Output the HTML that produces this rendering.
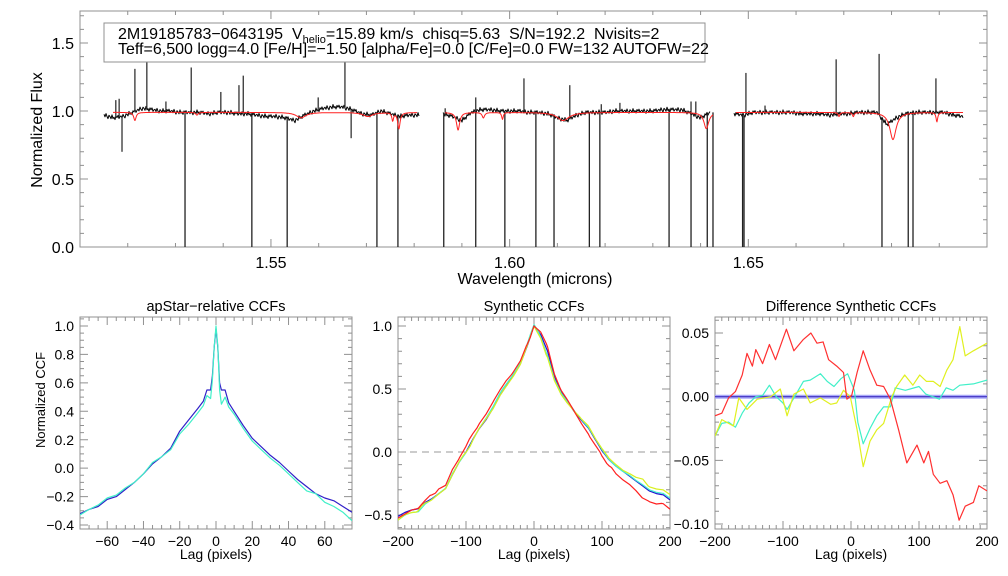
<!DOCTYPE html>
<html><head><meta charset="utf-8"><title>APOGEE spectrum and CCFs</title>
<style>
html,body{margin:0;padding:0;background:#fff;}
svg{display:block;font-family:"Liberation Sans",Arial,sans-serif;}
</style></head>
<body>
<svg id="chart" xmlns="http://www.w3.org/2000/svg" width="1008" height="576" viewBox="0 0 1008 576">
<defs>
<clipPath id="clipTop"><rect x="80" y="11" width="907" height="236"/></clipPath>
<clipPath id="clipL"><rect x="80" y="317" width="272" height="212"/></clipPath>
<clipPath id="clipM"><rect x="398" y="317" width="272" height="212"/></clipPath>
<clipPath id="clipR"><rect x="715" y="317" width="272" height="212"/></clipPath>
</defs>
</svg>
<script>
// ---------- DATA: top spectrum ----------
const chip1Start = 1.515, chip2Start = 1.586, chip3Start = 1.647, knotStep = 0.002;
const chip1Flux = [0.97,0.95,0.96,0.99,1.02,1.01,1.00,1.00,0.99,0.99,0.99,0.98,0.99,0.99,0.98,0.98,0.97,0.96,0.96,0.95,0.93,0.97,1.00,1.02,1.03,1.03,1.01,0.98,0.97,1.00,0.98,0.96,0.97,0.97];
const chip2Flux = [0.98,0.96,0.93,0.99,1.01,1.01,1.00,1.00,1.00,0.99,0.99,0.98,0.95,0.93,0.97,0.99,0.99,0.99,1.00,1.00,1.00,1.00,1.00,1.01,1.01,1.01,0.98,0.95,0.99];
const chip3Flux = [0.98,0.97,0.99,0.99,0.99,0.99,0.99,0.98,0.98,0.98,0.97,0.98,0.98,0.99,0.99,0.99,0.90,0.95,0.98,0.99,0.99,0.99,0.99,0.97,0.96];
const noiseTemplate = [0.006,-0.010,0.015,-0.004,-0.017,0.009,0.002,-0.012,0.018,-0.007,0.004,-0.015,0.011,-0.002,0.013,-0.011,0.001];
const spikeWl = [1.5175,1.5182,1.5215,1.5240,1.5333,1.5395,1.5433,1.5442,1.5599,1.5655,1.5280,1.5865,1.5929,1.6030,1.6126,1.6192,1.6231,1.6380,1.6390,1.6495,1.6535,1.6684,1.6774,1.6893,
  1.5188,1.5320,1.5460,1.5534,1.5668,1.5722,1.5766,1.5862,1.5929,1.5990,1.6055,1.6093,1.6167,1.6189,1.6334,1.6380,1.6414,1.6426,1.6488,1.6491,1.6780,1.6835,1.6845];
const spikeFlux = [1.08,1.09,1.31,1.42,1.32,1.14,1.19,1.26,1.10,1.50,1.07,1.02,1.10,1.24,1.19,1.05,1.06,1.07,1.07,1.28,1.04,1.38,1.42,1.24,
  0.70,-0.1,-0.1,-0.1,0.80,-0.1,-0.1,-0.1,-0.1,-0.1,-0.1,-0.1,-0.1,-0.1,-0.1,-0.1,-0.1,-0.1,-0.1,-0.1,-0.1,-0.1,-0.1];
const modelContinuum = 0.99;
const modelRanges = [[1.5169,1.5805],[1.5865,1.6425],[1.6475,1.6950]];
const dipCenter = [1.5215,1.5563,1.5703,1.5755,1.5768,1.5345,1.5892,1.5945,1.5985,1.6112,1.6412,1.6803,1.6895,1.6690,1.6720];
const dipDepth  = [0.06,0.04,0.03,0.06,0.12,0.02,0.13,0.04,0.05,0.06,0.12,0.20,0.07,0.03,0.03];
const dipWidth  = [0.0003,0.0012,0.0012,0.0002,0.0003,0.0003,0.0004,0.0003,0.0002,0.0015,0.0006,0.0008,0.0002,0.0002,0.0002];
const topXTicks = [1.55,1.60,1.65];
const topXTickLabels = ["1.55","1.60","1.65"];
const topYTicks = [0,0.5,1.0,1.5];
const topYTickLabels = ["0.0","0.5","1.0","1.5"];

// ---------- DATA: apStar-relative CCFs ----------
const leftLag = [-75,-70,-65,-60,-55,-50,-45,-40,-35,-30,-25,-20,-15,-10,-7,-5,-3,-2,-1,0,1,2,3,5,7,10,15,20,25,30,35,40,45,50,55,60,65,70,75];
const leftBlue = [-0.32,-0.29,-0.27,-0.22,-0.20,-0.15,-0.10,-0.04,0.03,0.08,0.14,0.26,0.34,0.42,0.47,0.55,0.55,0.65,0.85,0.98,0.85,0.60,0.55,0.55,0.46,0.40,0.30,0.21,0.15,0.09,0.04,-0.02,-0.08,-0.13,-0.18,-0.21,-0.23,-0.27,-0.31];
const leftCyan = [-0.33,-0.29,-0.26,-0.21,-0.19,-0.14,-0.10,-0.04,0.04,0.08,0.13,0.24,0.31,0.39,0.44,0.51,0.49,0.62,0.85,1.00,0.86,0.55,0.45,0.50,0.43,0.38,0.28,0.19,0.13,0.07,0.02,-0.04,-0.10,-0.16,-0.18,-0.24,-0.27,-0.31,-0.37];
const leftXTicks = [-60,-40,-20,0,20,40,60];
const leftXTickLabels = ["\u221260","\u221240","\u221220","0","20","40","60"];
const leftYTicks = [-0.4,-0.2,0,0.2,0.4,0.6,0.8,1.0];
const leftYTickLabels = ["\u22120.4","\u22120.2","0.0","0.2","0.4","0.6","0.8","1.0"];

// ---------- DATA: Synthetic CCFs (reference series) ----------
const midLag = [-200,-190,-180,-170,-160,-150,-140,-130,-120,-110,-100,-90,-80,-70,-60,-50,-40,-30,-20,-10,0,10,20,30,40,50,60,70,80,90,100,110,120,130,140,150,160,170,180,190,200];
const midBlue = [-0.51,-0.48,-0.46,-0.45,-0.40,-0.37,-0.33,-0.29,-0.18,-0.08,0.00,0.10,0.19,0.26,0.35,0.45,0.53,0.61,0.70,0.84,1.00,0.93,0.80,0.60,0.48,0.40,0.32,0.25,0.19,0.10,0.01,-0.06,-0.11,-0.15,-0.19,-0.23,-0.27,-0.31,-0.33,-0.34,-0.38];
const midXTicks = [-200,-100,0,100,200];
const midXTickLabels = ["\u2212200","\u2212100","0","100","200"];
const midYTicks = [-0.5,0,0.5,1.0];
const midYTickLabels = ["\u22120.5","0.0","0.5","1.0"];

// ---------- DATA: Difference Synthetic CCFs ----------
const redLag = [-200,-190,-180,-170,-160,-153,-145,-140,-130,-120,-111,-95,-84,-70,-59,-50,-41,-33,-21,-11,-6,1,9,18,28,38,48,58,70,82,97,107,114,121,131,141,150,159,168,180,188,200];
const redDiff = [-0.015,-0.013,-0.001,0.004,0.017,0.034,0.024,0.037,0.026,0.041,0.029,0.053,0.036,0.045,0.050,0.042,0.043,0.029,0.024,0.019,-0.002,0.001,0.019,0.036,0.021,0.009,0.008,-0.002,-0.026,-0.052,-0.038,-0.052,-0.043,-0.061,-0.068,-0.066,-0.077,-0.097,-0.086,-0.083,-0.070,-0.074];
const yellowLag = [-200,-190,-173,-165,-153,-138,-118,-104,-94,-84,-70,-60,-45,-30,-21,-11,-1,9,18,28,38,48,60,67,79,91,101,111,121,131,141,150,160,168,180,200];
const yellowDiff = [-0.031,-0.018,-0.023,-0.001,-0.010,-0.002,0.000,0.006,-0.015,0.002,0.006,-0.005,-0.001,-0.006,-0.005,0.005,0.000,-0.026,-0.055,-0.035,-0.026,-0.021,0.000,0.008,0.017,0.009,0.017,0.012,0.012,0.008,0.021,0.029,0.055,0.032,0.036,0.042];
const cyanLag = [-200,-190,-180,-170,-160,-150,-140,-130,-120,-110,-100,-94,-85,-70,-60,-45,-35,-25,-15,-5,5,10,18,28,38,48,58,65,80,100,110,130,140,150,160,180,200];
const cyanDiff = [-0.031,-0.021,-0.020,-0.024,-0.013,-0.005,0.000,0.001,0.009,0.000,-0.005,-0.010,-0.002,0.012,0.013,0.018,0.012,0.008,0.014,0.018,0.005,-0.020,-0.037,-0.025,-0.015,-0.008,-0.008,0.007,0.005,0.008,0.002,-0.002,0.007,0.005,0.009,0.010,0.013];
const blueLag = [-200,200];
const blueDiff = [0,0];
const rightXTicks = [-200,-100,0,100,200];
const rightXTickLabels = ["\u2212200","\u2212100","0","100","200"];
const rightYTicks = [-0.10,-0.05,0,0.05];
const rightYTickLabels = ["\u22120.10","\u22120.05","0.00","0.05"];

// ---------- rendering ----------
const NS = "http://www.w3.org/2000/svg";
const svg = document.getElementById("chart");
function mk(tag, attrs, parent) {
  const e = document.createElementNS(NS, tag);
  for (const k in attrs) e.setAttribute(k, attrs[k]);
  (parent || svg).appendChild(e);
  return e;
}
function linMap(d0, d1, r0, r1) { return v => r0 + (v - d0) / (d1 - d0) * (r1 - r0); }
function interp(xs, ys, x) {
  if (x <= xs[0]) return ys[0];
  for (let i = 1; i < xs.length; i++) {
    if (x <= xs[i]) { const t = (x - xs[i-1]) / (xs[i] - xs[i-1]); return ys[i-1] + t * (ys[i] - ys[i-1]); }
  }
  return ys[ys.length - 1];
}
function ticksBetween(a, b, step) { const out = []; const s = Math.ceil(a / step - 1e-9); for (let i = s; i * step <= b + 1e-9; i++) out.push(i * step); return out; }

function drawFrame(P, name) {
  const g = mk("g", {});
  
  
  const fr = mk("rect", {x: P.x0, y: P.y0, width: P.x1 - P.x0, height: P.y1 - P.y0, fill: "none", stroke: "#909090", "stroke-width": 1}, g);
  
  
  const X = P.X, Y = P.Y;
  let d = "";
  ticksBetween(P.xd0, P.xd1, P.xMinor).forEach(v => { const px = X(v); d += `M${px} ${P.y1}v-4M${px} ${P.y0}v4`; });
  P.xMajorTicks.forEach(v => { const px = X(v); d += `M${px} ${P.y1}v-8M${px} ${P.y0}v8`; });
  ticksBetween(P.yd0, P.yd1, P.yMinor).forEach(v => { const py = Y(v); d += `M${P.x0} ${py}h4M${P.x1} ${py}h-4`; });
  P.yMajorTicks.forEach(v => { const py = Y(v); d += `M${P.x0} ${py}h8M${P.x1} ${py}h-8`; });
  const tk = mk("path", {d: d, stroke: "#909090", "stroke-width": 1, fill: "none"}, g);
  
  
  P.xMajorTicks.forEach((v, i) => {
    const t = mk("text", {x: X(v), y: P.y1 + P.xlabOff, "text-anchor": "middle", "font-size": P.fs, fill: "#000"}, g);
    t.textContent = P.xLabels[i];
    
    
  });
  P.yMajorTicks.forEach((v, i) => {
    const t = mk("text", {x: P.x0 - 6, y: Y(v) + P.fs * 0.36, "text-anchor": "end", "font-size": P.fs, fill: "#000"}, g);
    t.textContent = P.yLabels[i];
    
    
  });
}
function polyFrom(xs, ys, X, Y, color, width, clip, name) {
  let pts = xs.map((x, i) => X(x).toFixed(1) + "," + Y(ys[i]).toFixed(1)).join(" ");
  const p = mk("polyline", {points: pts, fill: "none", stroke: color, "stroke-width": width, "clip-path": clip, "stroke-linejoin": "round"});
  
  
  return p;
}
function text(x, y, s, fs, name, anchor, rot) {
  const t = mk("text", {x: x, y: y, "font-size": fs, "text-anchor": anchor || "middle", fill: "#000"});
  if (rot) t.setAttribute("transform", `rotate(-90 ${x} ${y})`);
  t.textContent = s;
  
  
  return t;
}

// ----- top panel -----
const TX = linMap(1.51, 1.70, 80, 987), TY = linMap(0, 1.0, 247, 111);
const TP = {x0: 80, x1: 987, y0: 11, y1: 247, X: TX, Y: TY, xd0: 1.51, xd1: 1.70, xMinor: 0.01, yd0: 0, yd1: 1.74, yMinor: 0.1,
  xMajorTicks: topXTicks, yMajorTicks: topYTicks, xLabels: topXTickLabels, yLabels: topYTickLabels, fs: 16, xlabOff: 21};
drawFrame(TP, "spectrum");
text(535, 284, "Wavelength (microns)", 16, "spectrum-x-axis-title");
text(42, 130, "Normalized Flux", 16, "spectrum-y-axis-title", "middle", true);

function knotGrid(start, arr) { return arr.map((_, i) => start + i * knotStep); }
const chips = [[chip1Start, chip1Flux], [chip2Start, chip2Flux], [chip3Start, chip3Flux]];
chips.forEach((c, ci) => {
  const wls = knotGrid(c[0], c[1]);
  const xa = Math.round(TX(wls[0])), xb = Math.round(TX(wls[wls.length - 1]));
  const ws = [], fs = [];
  for (let px = xa, k = 0; px <= xb; px++, k++) {
    const wl = 1.51 + (px - 80) / (907 / 0.19);
    ws.push(wl); fs.push(interp(wls, c[1], wl) + noiseTemplate[(k + ci * 5) % noiseTemplate.length]);
  }
  polyFrom(ws, fs, TX, TY, "#000", 1, "url(#clipTop)", "observed-spectrum-chip" + (ci + 1));
});
spikeWl.forEach((wl, i) => {
  let base = 0.99;
  chips.forEach(c => { const wls = knotGrid(c[0], c[1]); if (wl >= wls[0] && wl <= wls[wls.length - 1]) base = interp(wls, c[1], wl); });
  const x = TX(wl);
  const l = mk("line", {x1: x, x2: x, y1: TY(base), y2: TY(spikeFlux[i]), stroke: spikeFlux[i] < 0.5 ? "#222" : "#333", "stroke-width": 1.3, "clip-path": "url(#clipTop)"});
  
  
});
modelRanges.forEach((r, ri) => {
  const ws = [], fs = [];
  for (let px = Math.round(TX(r[0])); px <= Math.round(TX(r[1])); px += 0.5) {
    const wl = 1.51 + (px - 80) / (907 / 0.19);
    let v = modelContinuum;
    dipCenter.forEach((c, j) => { const w = dipWidth[j]; v -= dipDepth[j] * w * w / ((wl - c) * (wl - c) + w * w); });
    ws.push(wl); fs.push(v);
  }
  polyFrom(ws, fs, TX, TY, "#ff2020", 1, "url(#clipTop)", "model-spectrum-chip" + (ri + 1));
});
const box = mk("rect", {x: 104, y: 23, width: 601, height: 39, fill: "#fff", stroke: "#909090", "stroke-width": 1});


const l1 = mk("text", {x: 118, y: 39, "font-size": 16, fill: "#000", style: "white-space:pre"});


l1.setAttribute("xml:space", "preserve");
l1.innerHTML = '2M19185783\u22120643195  V<tspan font-size="11" dy="4">helio</tspan><tspan dy="-4">=15.89 km/s  chisq=5.63  S/N=192.2  Nvisits=2</tspan>';
const l2 = text(118, 54, "Teff=6,500 logg=4.0 [Fe/H]=\u22121.50 [alpha/Fe]=0.0 [C/Fe]=0.0 FW=132 AUTOFW=22", 16, "info-line-2", "start");

// ----- bottom left -----
const LX = linMap(-75, 75, 80, 352), LY = linMap(-0.4, 1.0, 525, 326);
drawFrame({x0: 80, x1: 352, y0: 317, y1: 529, X: LX, Y: LY, xd0: -75, xd1: 75, xMinor: 5, yd0: -0.43, yd1: 1.06, yMinor: 0.05,
  xMajorTicks: leftXTicks, yMajorTicks: leftYTicks, xLabels: leftXTickLabels, yLabels: leftYTickLabels, fs: 14, xlabOff: 17}, "apstar-ccf");
text(216, 311, "apStar\u2212relative CCFs", 14.5, "apstar-ccf-title");
text(216, 559, "Lag (pixels)", 14, "apstar-ccf-x-axis-title");
text(45, 400, "Normalized CCF", 13, "apstar-ccf-y-axis-title", "middle", true);
polyFrom(leftLag, leftBlue, LX, LY, "#3020c8", 1.2, "url(#clipL)", "apstar-ccf-visit-1");
polyFrom(leftLag, leftCyan, LX, LY, "#40f0c8", 1.2, "url(#clipL)", "apstar-ccf-visit-2");

// ----- bottom middle -----
const MX = linMap(-200, 200, 398, 670), MY = linMap(-0.5, 1.0, 515, 326);
drawFrame({x0: 398, x1: 670, y0: 317, y1: 529, X: MX, Y: MY, xd0: -200, xd1: 200, xMinor: 10, yd0: -0.6, yd1: 1.07, yMinor: 0.1,
  xMajorTicks: midXTicks, yMajorTicks: midYTicks, xLabels: midXTickLabels, yLabels: midYTickLabels, fs: 14, xlabOff: 17}, "synthetic-ccf");
text(534, 311, "Synthetic CCFs", 14.5, "synthetic-ccf-title");
text(534, 559, "Lag (pixels)", 14, "synthetic-ccf-x-axis-title");
const zl = mk("line", {x1: 398, x2: 670, y1: MY(0), y2: MY(0), stroke: "#999", "stroke-width": 1, "stroke-dasharray": "7,5"});


const fineLag = [];
redLag.concat(yellowLag, cyanLag, midLag).forEach(v => { if (fineLag.indexOf(v) < 0) fineLag.push(v); });
fineLag.sort((a, b) => a - b);
const baseFine = fineLag.map(l => interp(midLag, midBlue, l));
polyFrom(fineLag, baseFine, MX, MY, "#2010d0", 1.2, "url(#clipM)", "synthetic-ccf-blue");
polyFrom(fineLag, fineLag.map((l, i) => baseFine[i] + interp(cyanLag, cyanDiff, l)), MX, MY, "#40f0d0", 1.2, "url(#clipM)", "synthetic-ccf-cyan");
polyFrom(fineLag, fineLag.map((l, i) => baseFine[i] + interp(yellowLag, yellowDiff, l)), MX, MY, "#d8f020", 1.2, "url(#clipM)", "synthetic-ccf-yellow");
polyFrom(fineLag, fineLag.map((l, i) => baseFine[i] + interp(redLag, redDiff, l)), MX, MY, "#ff2020", 1.2, "url(#clipM)", "synthetic-ccf-red");

// ----- bottom right -----
const RX = linMap(-200, 200, 715, 987), RY = linMap(-0.10, 0.05, 524, 333);
drawFrame({x0: 715, x1: 987, y0: 317, y1: 529, X: RX, Y: RY, xd0: -200, xd1: 200, xMinor: 10, yd0: -0.103, yd1: 0.062, yMinor: 0.01,
  xMajorTicks: rightXTicks, yMajorTicks: rightYTicks, xLabels: rightXTickLabels, yLabels: rightYTickLabels, fs: 14, xlabOff: 17}, "difference-ccf");
text(851, 311, "Difference Synthetic CCFs", 14.5, "difference-ccf-title");
text(851, 559, "Lag (pixels)", 14, "difference-ccf-x-axis-title");
polyFrom(blueLag, blueDiff, RX, RY, "#a8a8f8", 4, "url(#clipR)", "difference-ccf-blue-band");
polyFrom(blueLag, blueDiff, RX, RY, "#4030c0", 1.2, "url(#clipR)", "difference-ccf-blue");
polyFrom(cyanLag, cyanDiff, RX, RY, "#40f0c8", 1.2, "url(#clipR)", "difference-ccf-cyan");
polyFrom(yellowLag, yellowDiff, RX, RY, "#e0f020", 1.2, "url(#clipR)", "difference-ccf-yellow");
polyFrom(redLag, redDiff, RX, RY, "#ff3030", 1.2, "url(#clipR)", "difference-ccf-red");
</script>
</body></html>
